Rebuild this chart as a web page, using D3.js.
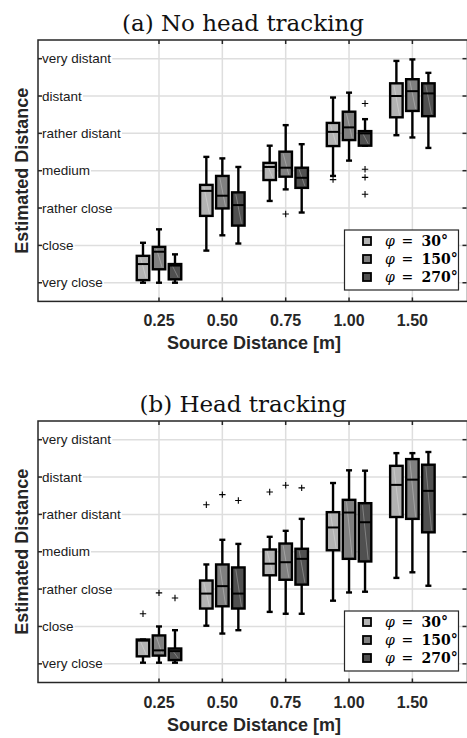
<!DOCTYPE html>
<html><head><meta charset="utf-8">
<script src="https://cdn.jsdelivr.net/npm/d3@7"></script>
<style>body{margin:0;background:#fff}svg{display:block}</style>
</head><body>
<script>
// ---- data ----
const categories = ["0.25","0.50","0.75","1.00","1.50"];
const levels = ["very close","close","rather close","medium","rather distant","distant","very distant"];
const angles = ["30","150","270"];
const angleColors = ["#b3b3b3","#808080","#505050"];

// [lower whisker, q1, median, q3, upper whisker] per category
const noTrack30  = [[1.0,1.07,1.5,1.72,2.07],[1.86,2.79,3.46,3.62,4.37],[3.19,3.75,4.1,4.21,4.67],[3.86,4.66,5.04,5.28,5.96],[4.95,5.43,6.0,6.34,6.94]];
const noTrack150 = [[1.0,1.36,1.83,1.96,2.43],[2.27,2.99,3.33,3.86,4.33],[3.5,3.84,4.08,4.51,5.22],[4.27,4.82,5.16,5.58,6.09],[4.89,5.6,6.13,6.45,6.98]];
const noTrack270 = [[1.0,1.09,1.46,1.5,1.76],[2.05,2.53,3.08,3.42,4.1],[2.88,3.54,3.81,4.08,4.71],[4.67,4.67,5.0,5.06,5.38],[4.61,5.46,6.07,6.34,6.62]];
const noTrackOut30  = [[],[],[],[3.76],[]];
const noTrackOut150 = [[],[],[2.84],[],[]];
const noTrackOut270 = [[],[],[],[5.8,4.04,3.82,3.37],[]];

const track30  = [[1.03,1.2,1.62,1.65,1.65],[2.02,2.48,2.88,3.23,3.66],[2.39,3.37,3.68,4.06,4.4],[2.69,4.04,4.65,5.06,5.84],[3.3,4.93,5.79,6.3,6.64]];
const track150 = [[1.03,1.22,1.36,1.76,2.0],[1.81,2.54,3.08,3.66,4.32],[2.34,3.25,3.72,4.22,4.56],[2.91,3.81,5.05,5.39,6.18],[3.45,4.88,5.93,6.48,6.64]];
const track270 = [[1.03,1.1,1.34,1.41,1.9],[1.9,2.48,2.88,3.58,4.21],[2.34,3.12,3.81,4.08,4.88],[2.93,3.74,4.79,5.3,6.17],[3.09,4.52,5.63,6.33,6.67]];
const trackOut30  = [[2.34],[5.26],[5.6],[],[]];
const trackOut150 = [[2.9],[5.53],[5.78],[],[]];
const trackOut270 = [[2.76],[5.37],[5.71],[],[]];

const W = 467, H = 738;
const sans = "'Liberation Sans', Arial, sans-serif";
const serif = "'DejaVu Serif', serif";
const ink = "#262626";

const svg = d3.select("body").append("svg").attr("width", W).attr("height", H);

const L = 38, R = 467.5;
const x = d3.scaleLinear().domain([-1.91, 4.87]).range([L, R]);
const xi = d3.scalePoint().domain(categories).range([0, 4]);
const off = d3.scaleBand().domain(angles).range([-24, 24]);
const boxW = 12.5, capW = 6;

function panel(top, bottom, title, stats, outs) {
  const g = svg.append("g");
  const y = d3.scaleLinear().domain([0.5, 7.5]).range([bottom, top]);
  const cx = c => x(xi(c));

  // grid
  g.append("g").selectAll("line").data(categories).join("line")
    .attr("x1", d => cx(d)).attr("x2", d => cx(d)).attr("y1", top).attr("y2", bottom)
    .attr("stroke", "#dedede").attr("stroke-width", 1.5);
  g.append("g").selectAll("line").data(levels).join("line")
    .attr("x1", L).attr("x2", R).attr("y1", (d, i) => y(i + 1)).attr("y2", (d, i) => y(i + 1))
    .attr("stroke", "#dedede").attr("stroke-width", 1.5);

  // y labels inside plot with white background
  const yl = g.append("g");
  levels.forEach((lv, i) => {
    const t = yl.append("text").attr("x", 42).attr("y", y(i + 1) + 4.5)
      .attr("font-family", sans).attr("font-size", 13.5).attr("fill", "#1a1a1a").text(lv);
    const bb = t.node().getBBox();
    yl.insert("rect", "text").attr("x", bb.x - 1).attr("y", y(i + 1) - 2).attr("width", bb.width + 2)
      .attr("height", 4).attr("fill", "#fff");
  });

  // frame
  const fr = g.append("g").attr("stroke", ink).attr("stroke-width", 1.5).attr("fill", "none");
  fr.append("rect").attr("x", L).attr("y", top).attr("width", R - L).attr("height", bottom - top);
  // ticks
  categories.forEach(c => {
    fr.append("line").attr("x1", cx(c)).attr("x2", cx(c)).attr("y1", top).attr("y2", top + 4);
    fr.append("line").attr("x1", cx(c)).attr("x2", cx(c)).attr("y1", bottom).attr("y2", bottom - 4);
  });
  levels.forEach((lv, i) => {
    fr.append("line").attr("x1", L).attr("x2", L + 4).attr("y1", y(i + 1)).attr("y2", y(i + 1));
    fr.append("line").attr("x1", R - 1).attr("x2", R - 5).attr("y1", y(i + 1)).attr("y2", y(i + 1));
  });

  // boxes
  angles.forEach((a, ai) => {
    const bg = g.append("g");
    categories.forEach((c, ci) => {
      const s = stats[ai][ci];
      const xc = cx(c) + off(a) + off.bandwidth() / 2;
      const x0 = xc - boxW / 2;
      bg.append("line").attr("x1", xc).attr("x2", xc).attr("y1", y(s[0])).attr("y2", y(s[4]))
        .attr("stroke", "#000").attr("stroke-width", 2.4);
      [s[0], s[4]].forEach(v => bg.append("line").attr("x1", xc - capW / 2).attr("x2", xc + capW / 2)
        .attr("y1", y(v)).attr("y2", y(v)).attr("stroke", "#000").attr("stroke-width", 2.4));
      bg.append("rect").attr("x", x0).attr("y", y(s[3])).attr("width", boxW)
        .attr("height", Math.max(0.5, y(s[1]) - y(s[3])))
        .attr("fill", angleColors[ai]).attr("stroke", "#000").attr("stroke-width", 2.4);
      bg.append("line").attr("x1", x0 + boxW * 0.3).attr("x2", x0 + boxW * 0.75)
        .attr("y1", y(s[3]) + 2).attr("y2", y(s[1]) - 2)
        .attr("stroke", "rgba(255,255,255,0.35)").attr("stroke-width", 0.8);
      bg.append("line").attr("x1", x0).attr("x2", x0 + boxW).attr("y1", y(s[2])).attr("y2", y(s[2]))
        .attr("stroke", "#000").attr("stroke-width", 2);
      outs[ai][ci].forEach(v => {
        bg.append("path").attr("d", `M${xc - 3.2},${y(v)}h6.4M${xc},${y(v) - 3.2}v6.4`)
          .attr("stroke", "#000").attr("stroke-width", 1.1);
      });
    });
  });

  // legend
  const lg = g.append("g");
  lg.append("rect").attr("x", 344.5).attr("y", top + 190).attr("width", 114).attr("height", 60)
    .attr("fill", "#fff").attr("stroke", ink).attr("stroke-width", 1.2);
  angles.forEach((a, ai) => {
    const ly = top + 201 + ai * 18;
    lg.append("rect").attr("x", 363).attr("y", ly - 4).attr("width", 8).attr("height", 8)
      .attr("fill", angleColors[ai]).attr("stroke", "#000").attr("stroke-width", 1.8);
    const t = lg.append("text").attr("y", ly + 5).attr("font-family", serif)
      .attr("font-size", 14).attr("fill", "#000");
    t.append("tspan").attr("x", 385).attr("font-style", "italic").text("φ");
    t.append("tspan").attr("x", 401.5).text("=");
    t.append("tspan").attr("x", 421.5).attr("font-weight", "bold").text(a + "°");
  });

  // x tick labels
  g.append("g").selectAll("text").data(categories).join("text")
    .attr("x", d => cx(d)).attr("y", bottom + 25).attr("text-anchor", "middle")
    .attr("font-family", sans).attr("font-weight", "bold").attr("font-size", 16).attr("fill", ink)
    .text(d => d);
  g.append("text").attr("x", 254).attr("y", bottom + 48).attr("text-anchor", "middle")
    .attr("font-family", sans).attr("font-weight", "bold").attr("font-size", 18).attr("fill", ink)
    .text("Source Distance [m]");
  g.append("text").attr("transform", `translate(28,${(top + bottom) / 2}) rotate(-90)`)
    .attr("text-anchor", "middle").attr("font-family", sans).attr("font-weight", "bold")
    .attr("font-size", 18).attr("fill", ink).text("Estimated Distance");
  g.append("text").attr("x", 243).attr("y", top - 9).attr("text-anchor", "middle")
    .attr("font-family", serif).attr("font-size", 23).attr("fill", "#111").text(title);
}

panel(40, 301.4, "(a) No head tracking",
  [noTrack30, noTrack150, noTrack270], [noTrackOut30, noTrackOut150, noTrackOut270]);
panel(421, 682.5, "(b) Head tracking",
  [track30, track150, track270], [trackOut30, trackOut150, trackOut270]);
</script>
</body></html>
